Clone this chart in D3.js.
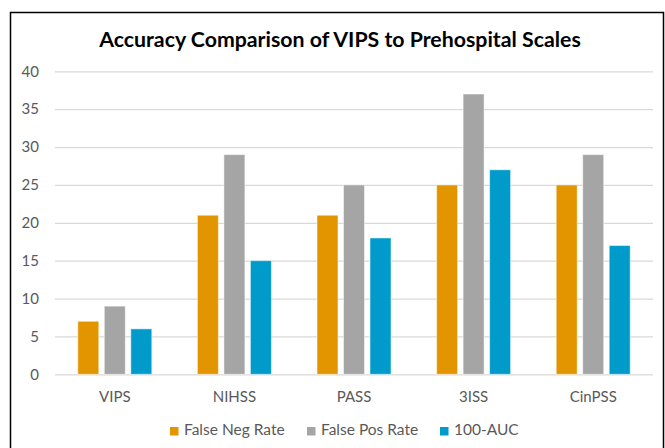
<!DOCTYPE html>
<html>
<head>
<meta charset="utf-8">
<script src="https://cdn.jsdelivr.net/npm/d3@7"></script>
<style>
  body { margin: 0; background: #fff; }
  svg { display: block; font-family: Lato, "Open Sans", sans-serif; }
</style>
</head>
<body>
<svg id="chart" width="665" height="448"></svg>
<script>
const categories = ['VIPS', 'NIHSS', 'PASS', '3ISS', 'CinPSS'];
const seriesNames = ['False Neg Rate', 'False Pos Rate', '100-AUC'];
const falseNeg = [7, 21, 21, 25, 25];
const falsePos = [9, 29, 25, 37, 29];
const auc100 = [6, 15, 18, 27, 17];
const yTicks = [0, 5, 10, 15, 20, 25, 30, 35, 40];
const colors = ['#E39500', '#A5A5A5', '#009BCB'];

const values = [falseNeg, falsePos, auc100];

const w = 665;
const h = 448;
const plotLeft = 55, plotRight = 653, plotTop = 71.3, plotBottom = 374.3;

const svg = d3.select('#chart');

// frame
svg.append('path')
    .attr('d', 'M10.5,' + (h + 2) + ' L10.5,12.5 L663.5,12.5 L663.5,' + (h + 2))
    .attr('fill', 'none')
    .attr('stroke', '#000')
    .attr('stroke-width', 1.5);

svg.append('text')
    .attr('x', 340)
    .attr('y', 47)
    .attr('text-anchor', 'middle')
    .attr('font-size', 21.3)
    .attr('font-weight', 'bold')
    .attr('fill', '#000')
    .text('Accuracy Comparison of VIPS to Prehospital Scales');

const xScale = d3.scaleBand()
    .domain(categories)
    .range([plotLeft, plotRight]);

const inner = d3.scaleBand()
    .domain(d3.range(seriesNames.length))
    .range([0, xScale.bandwidth()])
    .paddingInner(0.2075)
    .paddingOuter(0.86);

const yScale = d3.scaleLinear()
    .domain([0, 40])
    .range([plotBottom, plotTop]);

const yAxis = d3.axisLeft(yScale).tickValues(yTicks).tickSize(-(plotRight - plotLeft)).tickPadding(16);

const gy = svg.append('g')
    .attr('transform', 'translate(' + plotLeft + ',0)')
    .call(yAxis)
    .attr('font-family', null)
    .attr('font-size', null);
gy.select('.domain').remove();
gy.selectAll('.tick line').attr('stroke', '#D9D9D9').attr('stroke-width', 1.3);
gy.selectAll('.tick text')
    .attr('fill', '#595959')
    .attr('font-size', 15);

const groups = svg.selectAll('.grp')
    .data(categories)
    .enter()
    .append('g')
    .attr('class', 'grp')
    .attr('transform', d => 'translate(' + xScale(d) + ',0)');

groups.selectAll('rect')
    .data((_, i) => values.map((s, k) => ({ k: k, v: s[i] })))
    .enter()
    .append('rect')
    .attr('x', d => inner(d.k))
    .attr('y', d => yScale(d.v))
    .attr('width', inner.bandwidth())
    .attr('height', d => plotBottom - yScale(d.v))
    .attr('fill', d => colors[d.k])
    .attr('stroke', '#fff')
    .attr('stroke-opacity', 0.5)
    .attr('stroke-width', 1);

const xAxis = d3.axisBottom(xScale).tickSize(0).tickPadding(17);
const gx = svg.append('g')
    .attr('transform', 'translate(0,' + plotBottom + ')')
    .call(xAxis)
    .attr('font-family', null)
    .attr('font-size', null);
gx.select('.domain').remove();
gx.selectAll('.tick text')
    .attr('fill', '#595959')
    .attr('font-size', 15);

// legend
const legendX = [170, 307, 440];
const legend = svg.selectAll('.leg')
    .data(seriesNames)
    .enter()
    .append('g')
    .attr('class', 'leg')
    .attr('transform', (_, i) => 'translate(' + legendX[i] + ',427)');
legend.append('rect')
    .attr('width', 8.5)
    .attr('height', 8.5)
    .attr('fill', (_, i) => colors[i]);
legend.append('text')
    .attr('x', 14)
    .attr('y', 8.3)
    .attr('fill', '#595959')
    .attr('font-size', 15.5)
    .text(d => d);
</script>
</body>
</html>
